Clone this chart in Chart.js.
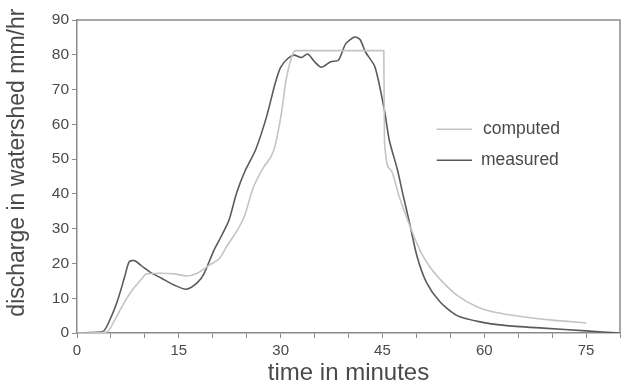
<!DOCTYPE html>
<html>
<head>
<meta charset="utf-8">
<script src="https://cdn.jsdelivr.net/npm/chart.js@4"></script>
<style>
  html, body { margin: 0; padding: 0; background: #fff; }
  #wrap { width: 624px; height: 388px; position: relative; }
</style>
</head>
<body>
<div id="wrap"><canvas id="flowChart"></canvas></div>
<script>
// values (minutes, mm/hr)
const measuredMin = [0, 3.8, 5, 6, 7, 7.7, 8.5, 9.9, 11, 12.4, 14.3, 16.1, 17.7, 18.7, 20.2, 21.2, 22.4, 23.5, 24.8, 26.3, 27.9, 29.2, 30, 31.1, 32, 33, 34, 35, 36, 37.4, 38.5, 39.6, 40.9, 41.7, 42.5, 43.9, 45.3, 46, 47.2, 48, 49, 50.1, 51.5, 53.5, 56, 59.4, 63, 68.7, 75, 80];
const measuredVal = [0, 0.4, 4.5, 9.5, 16, 20.5, 20.8, 18.7, 17.2, 15.8, 13.8, 12.6, 14.4, 17, 23.9, 27.6, 32.5, 40.2, 46.8, 52.6, 62, 71.8, 76.4, 79, 79.9, 79.2, 80.2, 78, 76.4, 78, 78.4, 83.2, 85.1, 84.4, 80.8, 76.5, 64, 55.5, 47, 40, 31.6, 22, 14.5, 8.9, 5, 3.2, 2.2, 1.4, 0.6, 0];

const computedMin = [0, 4.4, 5.5, 6.6, 7.5, 8.5, 9.5, 10.2, 12.4, 14.3, 16.2, 17.7, 19.5, 21, 22, 24.6, 26, 27.5, 29, 30.1, 30.8, 31.9, 32.2, 45.2, 45.3, 46.2, 47.5, 49, 50.6, 52, 54, 56, 59, 62, 66, 70, 75];
const computedVal = [0, 0.3, 3.5, 7.5, 10.5, 13.2, 15.5, 17, 17.2, 17, 16.4, 17.2, 19.5, 21.5, 24.7, 33.3, 42, 47.7, 52.6, 63, 72.7, 80.7, 81.2, 81.2, 55, 47, 39, 31, 23.5, 19, 14.4, 10.8, 7.5, 5.8, 4.6, 3.7, 2.9];

const xLabels = [0, 15, 30, 45, 60, 75];
const seriesNames = ['computed', 'measured'];
const yTitle = 'discharge in watershed mm/hr';

const inkText = '#4a4a4a';
const axisGray = '#8a8a8a';
const fontFam = '"Liberation Sans", Arial, sans-serif';

// frame on top/right, legend and y title (the original sits a bit above centre)
const framePlugin = {
  id: 'frameAndLegend',
  afterDatasetsDraw(chart) {
    const { ctx, chartArea: a, scales } = chart;
    ctx.save();
    ctx.strokeStyle = axisGray;
    ctx.lineWidth = 1.5;
    ctx.beginPath();
    ctx.moveTo(a.left, a.top);
    ctx.lineTo(a.right, a.top);
    ctx.lineTo(a.right, a.bottom);
    ctx.stroke();

    const x0 = scales.x.getPixelForValue(53);
    const x1 = scales.x.getPixelForValue(58.2);
    ctx.font = '17.5px ' + fontFam;
    ctx.textBaseline = 'middle';
    chart.data.datasets.forEach((ds, i) => {
      const y = scales.y.getPixelForValue(i === 0 ? 58.6 : 49.7);
      ctx.strokeStyle = ds.borderColor;
      ctx.lineWidth = 1.5;
      ctx.beginPath();
      ctx.moveTo(x0, y);
      ctx.lineTo(x1, y);
      ctx.stroke();
      ctx.fillStyle = inkText;
      ctx.fillText(ds.label, x1 + (i === 0 ? 11 : 9), y);
    });

    // y title
    ctx.translate(18, scales.y.getPixelForValue(49));
    ctx.rotate(-Math.PI / 2);
    ctx.textAlign = 'center';
    ctx.font = '23px ' + fontFam;
    ctx.fillText(yTitle, 0, 0);
    ctx.restore();
  }
};

const ctx = document.getElementById('flowChart').getContext('2d');
const flowChart = new Chart(ctx, {
  type: 'line',
  data: {
    datasets: [{
      label: seriesNames[0],
      data: computedMin.map((m, i) => ({ x: m, y: computedVal[i] })),
      borderColor: '#c4c4c4',
      borderWidth: 1.6,
      pointRadius: 0,
      cubicInterpolationMode: 'monotone',
      fill: false
    }, {
      label: seriesNames[1],
      data: measuredMin.map((m, i) => ({ x: m, y: measuredVal[i] })),
      borderColor: '#5a5a5a',
      borderWidth: 1.6,
      pointRadius: 0,
      tension: 0.25,
      fill: false
    }]
  },
  options: {
    responsive: true,
    maintainAspectRatio: false,
    animation: false,
    layout: { padding: { top: 20, right: 2, left: 0, bottom: 0 } },
    plugins: {
      legend: { display: false },
      tooltip: { enabled: false }
    },
    scales: {
      x: {
        type: 'linear',
        min: 0,
        max: 80,
        afterFit(scale) { scale.height = 55; },
        border: { color: axisGray, width: 1.5 },
        grid: { drawOnChartArea: false, drawTicks: true, tickLength: 5, color: axisGray },
        ticks: {
          stepSize: 5,
          autoSkip: false,
          maxRotation: 0,
          color: inkText,
          font: { size: 15, family: fontFam },
          padding: 4,
          callback: (v) => xLabels.includes(v) ? String(v) : ''
        },
        title: {
          display: true,
          text: 'time in minutes',
          color: inkText,
          font: { size: 24, family: fontFam },
          padding: { top: 0, bottom: 0 }
        }
      },
      y: {
        min: 0,
        max: 90,
        afterFit(scale) { scale.width = 77; },
        border: { color: axisGray, width: 1.5 },
        grid: { drawOnChartArea: false, drawTicks: true, tickLength: 5, color: axisGray },
        ticks: {
          stepSize: 10,
          color: inkText,
          font: { size: 15.5, family: fontFam },
          padding: 3
        }
      }
    }
  },
  plugins: [framePlugin]
});
</script>
</body>
</html>
